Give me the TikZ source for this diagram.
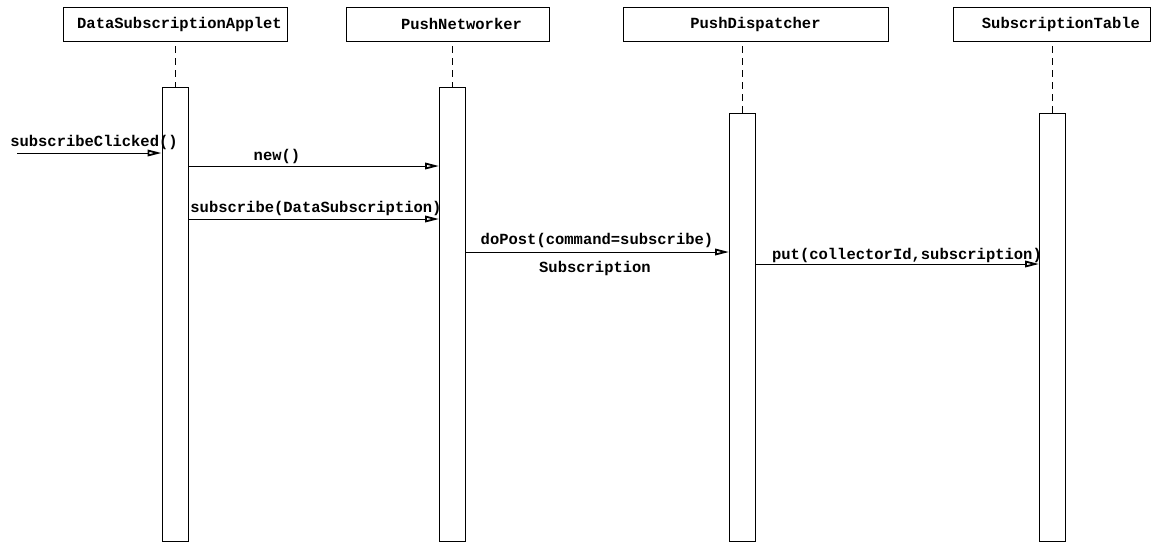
\documentclass[tikz,border=0pt]{standalone}
\usepackage{fontspec}
\setmonofont{Liberation Mono}
\usetikzlibrary{arrows.meta}
\begin{document}
\begin{tikzpicture}[x=1pt,y=-1pt,
  obj/.style={draw, line width=0.9pt, inner sep=0pt, minimum height=34pt, font=\ttfamily\bfseries\fontsize{15.5}{18}\selectfont},
  lbl/.style={font=\ttfamily\bfseries\fontsize{15.5}{18}\selectfont, inner sep=0pt},
  act/.style={draw, line width=0.9pt, minimum width=26pt, inner sep=0pt, fill=white},
  life/.style={line width=0.9pt, dash pattern=on 7pt off 5pt, dash phase=7pt},
  msg/.style={line width=0.9pt, -{Triangle[open, length=14pt, width=6.5pt, line width=1.8pt]}}]
\useasboundingbox (0,0) rectangle (1152,542);
% objects
\node[obj, minimum width=224pt] (o1) at (175,24) {\hspace*{9pt}DataSubscriptionApplet};
\node[obj, minimum width=203pt] (o2) at (447.5,24) {\hspace*{28pt}PushNetworker};
\node[obj, minimum width=265pt] (o3) at (755.5,24) {PushDispatcher};
\node[obj, minimum width=197pt] (o4) at (1051.5,24) {\hspace*{19pt}SubscriptionTable};
% activations
\node[act, minimum height=454pt] (a1) at (175,314) {};
\node[act, minimum height=454pt] (a2) at (452.5,314) {};
\node[act, minimum height=428pt] (a3) at (742.5,327) {};
\node[act, minimum height=428pt] (a4) at (1052.5,327) {};
% lifelines
\draw[life] (o1.south) -- (a1.north);
\draw[life] (o2.south -| a2.north) -- (a2.north);
\draw[life] (o3.south -| a3.north) -- (a3.north);
\draw[life] (o4.south -| a4.north) -- (a4.north);
% messages
\coordinate (start) at (17,153);
\draw[msg] (start) -- (start -| a1.west);
\node[lbl] (m1) at (94,142) {subscribeClicked()};
\draw[msg] (a1.east |- 0,166) -- (a2.west |- 0,166);
\node[lbl] (m2) at (277,156) {new()};
\draw[msg] (a1.east |- 0,219) -- (a2.west |- 0,219);
\node[lbl] (m3) at (316,208) {subscribe(DataSubscription)};
\draw[msg] (a2.east |- 0,252) -- (a3.west |- 0,252);
\node[lbl] (m4) at (597,240) {doPost(command=subscribe)};
\node[lbl] (m4b) at (595,268) {Subscription};
\draw[msg] (a3.east |- 0,264) -- (a4.west |- 0,264);
\node[lbl] (m5) at (907,255) {put(collectorId,subscription)};
\end{tikzpicture}
\end{document}
